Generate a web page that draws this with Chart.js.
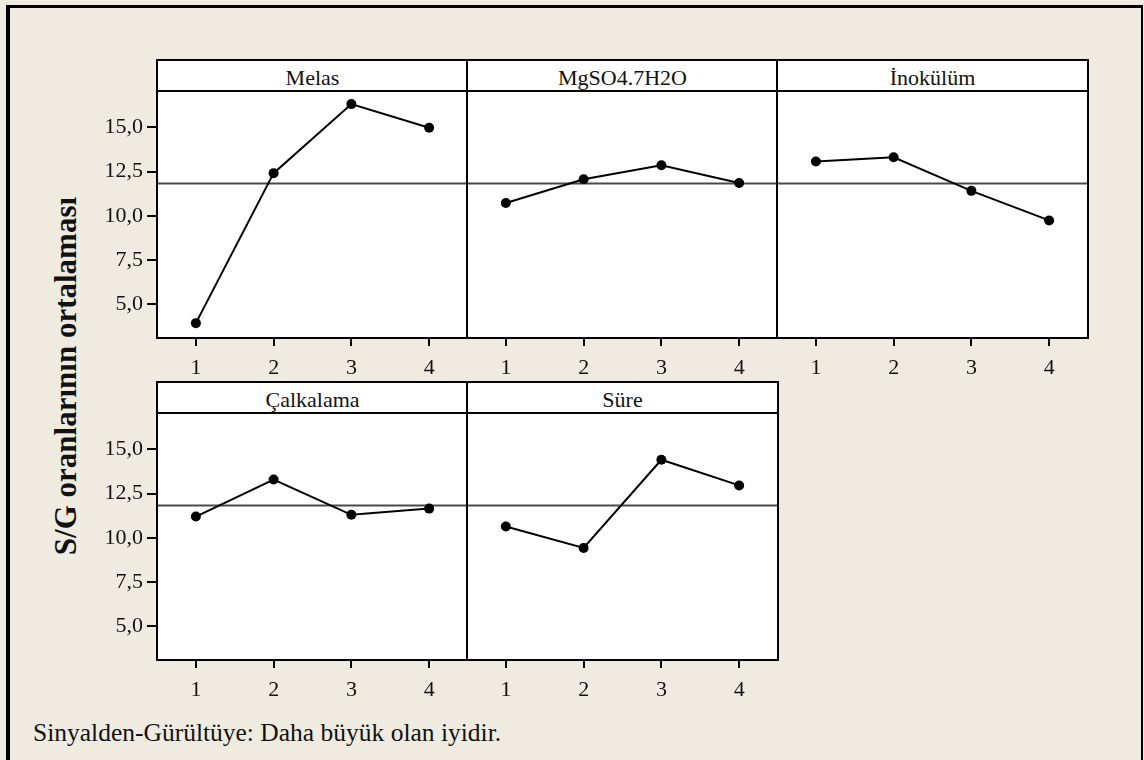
<!DOCTYPE html>
<html>
<head>
<meta charset="utf-8">
<script src="https://cdn.jsdelivr.net/npm/chart.js@4.4.1/dist/chart.umd.min.js"></script>
<style>
    html, body { margin: 0; padding: 0; }
    body {
        width: 1144px; height: 760px; position: relative; overflow: hidden;
        background: #efebe1; color: #111;
        font-family: "Liberation Serif", "Times New Roman", serif;
    }
    #frame {
        position: absolute; left: 6px; top: 5px; width: 1137px; height: 800px;
        border-left: 4px solid #000; border-top: 3px solid #000; border-right: 2px solid #000;
        box-sizing: border-box;
    }
    .hdr {
        position: absolute; box-sizing: border-box; background: #fff;
        border: 2px solid #000; text-align: center;
        font-size: 22px; line-height: 25px; padding-top: 4px;
    }
    #ytitle {
        position: absolute; left: 66px; top: 376px; white-space: nowrap;
        transform: translate(-50%, -50%) rotate(-90deg);
        font-weight: bold; font-size: 31px;
    }
    #footer { position: absolute; left: 33px; top: 718px; font-size: 25.5px; white-space: nowrap; }
    canvas { position: absolute; }
</style>
</head>
<body>
<div id="frame"></div>
<div id="ytitle">S/G oranlarının ortalaması</div>
<div id="footer">Sinyalden-Gürültüye: Daha büyük olan iyidir.</div>

<script>
// levels of each factor and the S/N means
const LEVELS = [1, 2, 3, 4];
const X_TICK_LABELS = ["1", "2", "3", "4"];
const FACTORS = ["Melas", "MgSO4.7H2O", "İnokülüm", "Çalkalama", "Süre"];
const melas = [3.94, 12.41, 16.31, 14.97];
const mgso4 = [10.72, 12.07, 12.86, 11.85];
const inokulum = [13.07, 13.31, 11.41, 9.74];
const calkalama = [11.20, 13.29, 11.30, 11.65];
const sure = [10.64, 9.43, 14.41, 12.96];
const MEAN = 11.83;
const Y_TICKS = [5, 7.5, 10, 12.5, 15];
const Y_TICK_LABELS = ["5,0", "7,5", "10,0", "12,5", "15,0"];

// panel geometry (px)
var PW = 311, PH = 247, HH = 31;
var YW = 60, XH = 50, PADT = 2, PADR = 3;
var FONT = "'Liberation Serif', 'Times New Roman', serif";

var panels = [
    { title: FACTORS[0], values: melas, left: 157, top: 60, yLabels: true },
    { title: FACTORS[1], values: mgso4, left: 467, top: 60, yLabels: false },
    { title: FACTORS[2], values: inokulum, left: 777, top: 60, yLabels: false },
    { title: FACTORS[3], values: calkalama, left: 157, top: 382, yLabels: true },
    { title: FACTORS[4], values: sure, left: 467, top: 382, yLabels: false }
];

// white plot area + black frame
const panelFrame = {
    id: 'panelFrame',
    beforeDraw: function (chart) {
        var a = chart.chartArea, ctx = chart.ctx;
        ctx.save();
        ctx.fillStyle = '#fff';
        ctx.fillRect(a.left, a.top, a.right - a.left, a.bottom - a.top);
        ctx.restore();
    },
    afterDraw: function (chart) {
        var a = chart.chartArea, ctx = chart.ctx;
        ctx.save();
        ctx.strokeStyle = '#000';
        ctx.lineWidth = 2;
        ctx.strokeRect(a.left, a.top, a.right - a.left, a.bottom - a.top);
        ctx.restore();
    }
};

function noPad(s) {
    s.paddingTop = 0; s.paddingBottom = 0; s.paddingLeft = 0; s.paddingRight = 0;
}

panels.forEach(function (p, n) {
    var hdr = document.createElement('div');
    hdr.className = 'hdr';
    hdr.textContent = p.title;
    hdr.style.left = (p.left - 1) + 'px';
    hdr.style.top = (p.top - 1) + 'px';
    hdr.style.width = (PW + 2) + 'px';
    hdr.style.height = (HH + 2) + 'px';
    document.body.appendChild(hdr);

    var plotTop = p.top + HH;
    var cv = document.createElement('canvas');
    cv.width = YW + PW + PADR;
    cv.height = PADT + PH + XH;
    cv.style.left = (p.left - YW) + 'px';
    cv.style.top = (plotTop - PADT) + 'px';
    document.body.appendChild(cv);

    new Chart(cv.getContext('2d'), {
        type: 'line',
        data: {
            datasets: [{
                data: LEVELS.map(function (l, i) { return { x: l, y: p.values[i] }; }),
                borderColor: '#000',
                backgroundColor: '#000',
                borderWidth: 2,
                pointRadius: 5,
                pointBorderWidth: 0,
                tension: 0,
                order: 1
            }, {
                data: [{ x: 0.5, y: MEAN }, { x: 4.5, y: MEAN }],
                borderColor: '#4a4a4a',
                borderWidth: 2,
                pointRadius: 0,
                order: 2
            }]
        },
        options: {
            responsive: false,
            animation: false,
            events: [],
            layout: { autoPadding: false, padding: { top: PADT, right: PADR, left: 0, bottom: 0 } },
            plugins: { legend: { display: false }, tooltip: { enabled: false } },
            scales: {
                x: {
                    type: 'linear', min: 0.5, max: 4.5,
                    afterBuildTicks: function (s) { s.ticks = LEVELS.map(function (v) { return { value: v }; }); },
                    afterFit: function (s) { s.height = XH; noPad(s); },
                    border: { display: false },
                    grid: { display: true, drawOnChartArea: false, drawTicks: true, tickLength: 8, color: '#000', lineWidth: 2 },
                    ticks: {
                        color: '#111', padding: 9, maxRotation: 0, autoSkip: false,
                        font: { family: FONT, size: 22 },
                        callback: function (v, i) { return X_TICK_LABELS[i]; }
                    }
                },
                y: {
                    min: 3.1, max: 17.05,
                    afterBuildTicks: function (s) { s.ticks = Y_TICKS.map(function (v) { return { value: v }; }); },
                    afterFit: function (s) { s.width = YW; noPad(s); },
                    border: { display: false },
                    grid: { display: p.yLabels, drawOnChartArea: false, drawTicks: true, tickLength: 10, color: '#000', lineWidth: 2 },
                    ticks: {
                        display: p.yLabels, color: '#111', padding: 4,
                        font: { family: FONT, size: 22 },
                        callback: function (v, i) { return Y_TICK_LABELS[i]; }
                    }
                }
            }
        },
        plugins: [panelFrame]
    });
});
</script>
</body>
</html>
